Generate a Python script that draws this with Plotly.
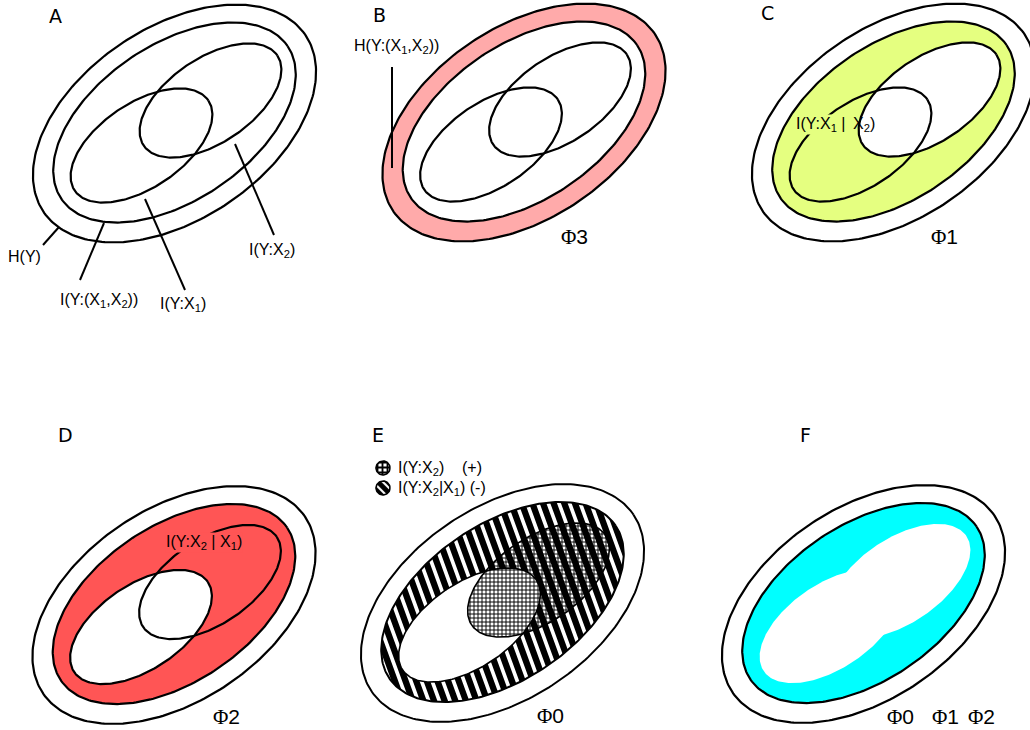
import numpy as np
import plotly.graph_objects as go

W, H = 1030, 730

# ---------------- data ----------------
PANEL_LETTERS = ["A", "B", "C", "D", "E", "F"]
PANEL_CX = [174.5, 524.0, 893.5, 174.0, 502.5, 863.5]
PANEL_CY = [123.5, 122.5, 122.5, 605.0, 603.0, 604.0]
LETTER_X = [55, 379, 767, 65, 378, 805]
LETTER_Y = [16, 15, 13, 435, 435, 435]

# ellipses: H(Y), I(Y:(X1,X2)), I(Y:X1), I(Y:X2)  (relative to panel centre)
ELL_NAMES = ["H(Y)", "I(Y:(X1,X2))", "I(Y:X1)", "I(Y:X2)"]
ELL_DX = [0.0, 0.0, -33.0, 36.0]
ELL_DY = [0.0, -1.0, 22.0, -23.0]
ELL_A = [158.0, 136.5, 80.6, 80.6]
ELL_B = [96.0, 78.0, 42.3, 42.3]
TILT_DEG = 34.0

# panel A labels and leader lines
A_LABELS = ["H(Y)", "I(Y:(X<sub>1</sub>,X<sub>2</sub>))", "I(Y:X<sub>1</sub>)", "I(Y:X<sub>2</sub>)"]
A_LABEL_X = [24, 99, 183, 272]
A_LABEL_Y = [256, 300, 304, 250]
A_LEAD_X0 = [43, 80, 185, 274]
A_LEAD_Y0 = [245, 280, 290, 235]
A_LEAD_X1 = [59, 104, 145, 235]
A_LEAD_Y1 = [227, 223, 199, 144]

PHI_TEXT = ["3", "1", "2", "0", "0", "1", "2"]
PHI_X = [574, 944, 226, 550, 900, 945, 981]
PHI_Y = [237, 237, 717, 716, 717, 717, 717]

PINK = "#ffaaaa"
YELLOW = "#e5ff80"
RED = "#ff5555"
CYAN = "#00ffff"

fig = go.Figure()


def ell_xy(p, k, n=260, reverse=False):
    th = np.radians(TILT_DEG)
    t = np.linspace(0, 2 * np.pi, n)
    if reverse:
        t = t[::-1]
    cx = PANEL_CX[p] + ELL_DX[k]
    cy = PANEL_CY[p] + ELL_DY[k]
    a, b = ELL_A[k], ELL_B[k]
    x = cx + a * np.cos(t) * np.cos(th) + b * np.sin(t) * np.sin(th)
    y = cy - a * np.cos(t) * np.sin(th) + b * np.sin(t) * np.cos(th)
    return x, y


def fill_ell(p, k, color, pattern=None):
    x, y = ell_xy(p, k)
    kw = dict(x=x, y=y, mode="lines", line=dict(width=0, color=color),
              fill="toself", fillcolor=color, hoverinfo="skip")
    if pattern is not None:
        kw["fillpattern"] = pattern
    fig.add_trace(go.Scatter(**kw))


def outline(p, k, width=2.2):
    x, y = ell_xy(p, k)
    fig.add_trace(go.Scatter(x=x, y=y, mode="lines",
                             line=dict(width=width, color="black"),
                             hoverinfo="skip"))


def seg(x0, y0, x1, y1, width=2.0):
    fig.add_trace(go.Scatter(x=[x0, x1], y=[y0, y1], mode="lines",
                             line=dict(width=width, color="black"),
                             hoverinfo="skip"))


# ---------- Panel A ----------
for k in range(4):
    outline(0, k)
for i in range(4):
    seg(A_LEAD_X0[i], A_LEAD_Y0[i], A_LEAD_X1[i], A_LEAD_Y1[i])

# ---------- Panel B ----------
fill_ell(1, 0, PINK)
fill_ell(1, 1, "white")
for k in range(4):
    outline(1, k)
seg(392, 67, 392, 168)

# ---------- Panel C ----------
fill_ell(2, 1, YELLOW)
fill_ell(2, 3, "white")
for k in range(4):
    outline(2, k)

# ---------- Panel D ----------
fill_ell(3, 1, RED)
fill_ell(3, 2, "white")
for k in range(4):
    outline(3, k)

# ---------- Panel E ----------
p = 4
cx, cy = PANEL_CX[p], PANEL_CY[p]
ang = np.radians(70.0)
d = np.array([np.cos(ang), np.sin(ang)])
nrm = np.array([-np.sin(ang), np.cos(ang)])
L = 92.0
period, black_w = 10.0, 6.3
sx, sy = [], []
for s in np.arange(-145, 145, period):
    c0 = np.array([cx, cy - 1]) + s * nrm
    c1 = c0 + black_w * nrm
    pts = [c0 - L * d, c0 + L * d, c1 + L * d, c1 - L * d, c0 - L * d]
    for q in pts:
        sx.append(q[0]); sy.append(q[1])
    sx.append(None); sy.append(None)
fig.add_trace(go.Scatter(x=sx, y=sy, mode="lines", line=dict(width=0, color="black"),
                         fill="toself", fillcolor="black", hoverinfo="skip"))
# white mask outside the I(Y:(X1,X2)) ellipse
ex, ey = ell_xy(p, 1, reverse=True)
x0, x1, y0, y1 = 333, 700, 462, 740
mx = [x0, x1, x1, x0, x0, ex[0]] + list(ex) + [ex[0], x0]
my = [y0, y0, y1, y1, y0, ey[0]] + list(ey) + [ey[0], y0]
fig.add_trace(go.Scatter(x=mx, y=my, mode="lines", line=dict(width=0, color="white"),
                         fill="toself", fillcolor="white", hoverinfo="skip"))
fill_ell(p, 2, "white")
fill_ell(p, 3, "rgba(0,0,0,0)",
         pattern=dict(shape="+", size=4, solidity=0.42, fgcolor="black",
                      bgcolor="rgba(0,0,0,0)", fillmode="replace"))
for k in range(4):
    outline(p, k, width=2.0 if k < 2 else 1.6)

# legend icons
ICON_Y = [468, 488]
th = np.linspace(0, 2 * np.pi, 60)
for i, pat in enumerate([
        dict(shape="+", size=5, solidity=0.6, fgcolor="black", bgcolor="white", fillmode="replace"),
        dict(shape="\\", size=7, solidity=0.3, fgcolor="white", bgcolor="black", fillmode="replace")]):
    fig.add_trace(go.Scatter(x=383 + 7 * np.cos(th), y=ICON_Y[i] + 7 * np.sin(th),
                             mode="lines", line=dict(width=1.6, color="black"),
                             fill="toself", fillcolor="black", fillpattern=pat,
                             hoverinfo="skip"))

# ---------- Panel F ----------
fill_ell(5, 1, CYAN)
fill_ell(5, 2, "white")
fill_ell(5, 3, "white")
outline(5, 0)
outline(5, 1)

# ---------- Text ----------
ann = []
LBL_FONT = dict(family="Liberation Sans, Arial, sans-serif", size=16, color="black")
for i, t in enumerate(PANEL_LETTERS):
    ann.append(dict(x=LETTER_X[i], y=LETTER_Y[i], text=t, showarrow=False,
                    font=dict(family="DejaVu Sans, sans-serif", size=19, color="black"),
                    xanchor="center", yanchor="middle"))
for i, t in enumerate(A_LABELS):
    ann.append(dict(x=A_LABEL_X[i], y=A_LABEL_Y[i], text=t, showarrow=False,
                    font=LBL_FONT, xanchor="center", yanchor="middle"))
ann.append(dict(x=396, y=46, text="H(Y:(X<sub>1</sub>,X<sub>2</sub>))", showarrow=False,
                font=LBL_FONT, xanchor="center", yanchor="middle"))
ann.append(dict(x=847, y=124, text="I(Y:X<sub>1</sub> |", showarrow=False,
                font=LBL_FONT, xanchor="right", yanchor="middle", bgcolor=YELLOW, borderpad=0))
ann.append(dict(x=851, y=124, text="X<sub>2</sub>)", showarrow=False,
                font=LBL_FONT, xanchor="left", yanchor="middle"))
ann.append(dict(x=204, y=542, text="I(Y:X<sub>2</sub> | X<sub>1</sub>)", showarrow=False,
                font=LBL_FONT, xanchor="center", yanchor="middle", bgcolor=RED, borderpad=0))
ann.append(dict(x=396, y=468, text="I(Y:X<sub>2</sub>)    (+)", showarrow=False,
                font=LBL_FONT, xanchor="left", yanchor="middle"))
ann.append(dict(x=396, y=488, text="I(Y:X<sub>2</sub>|X<sub>1</sub>) (-)", showarrow=False,
                font=LBL_FONT, xanchor="left", yanchor="middle"))
for i, t in enumerate(PHI_TEXT):
    ann.append(dict(x=PHI_X[i], y=PHI_Y[i],
                    text="<span style='font-family:Liberation Serif'>Φ</span>" + t,
                    showarrow=False,
                    font=dict(family="Liberation Sans, Arial, sans-serif", size=21, color="black"),
                    xanchor="center", yanchor="middle"))

fig.update_layout(
    width=W, height=H,
    margin=dict(l=0, r=0, t=0, b=0),
    paper_bgcolor="white", plot_bgcolor="white",
    showlegend=False,
    xaxis=dict(range=[0, W], visible=False, fixedrange=True),
    yaxis=dict(range=[H, 0], visible=False, fixedrange=True),
    annotations=ann,
)

fig.write_html("out.html", config={"displayModeBar": False},
               post_script="document.body.style.margin='0';document.body.style.overflow='hidden';")
